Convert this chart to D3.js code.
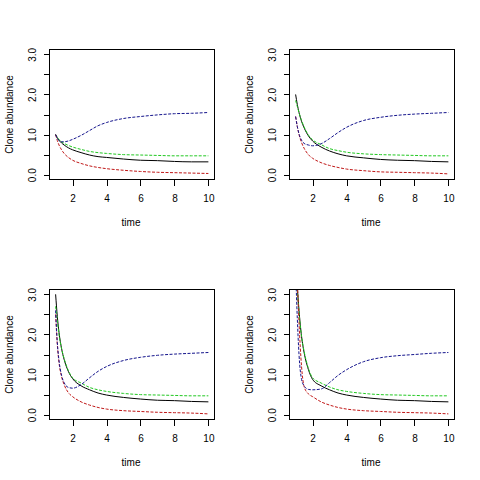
<!DOCTYPE html>
<html>
<head>
<meta charset="utf-8">
<script src="https://cdn.jsdelivr.net/npm/d3@7"></script>
<style>
  html, body { margin: 0; padding: 0; background: #fff; }
  svg { display: block; }
  text { font-family: "Liberation Sans", Arial, sans-serif; font-size: 10px; fill: #000; }
</style>
</head>
<body>
<script>
// ---- data ----
const time = [1, 1.1, 1.2, 1.35, 1.5, 1.75, 2, 2.5, 3, 3.5, 4, 5, 6, 7, 8, 9, 10];

const black1 = [1.0, 0.92, 0.86, 0.79, 0.74, 0.67, 0.62, 0.55, 0.49, 0.45, 0.43, 0.39, 0.36, 0.35, 0.33, 0.32, 0.32];
const green1 = [1.0, 0.93, 0.88, 0.82, 0.78, 0.73, 0.69, 0.63, 0.58, 0.55, 0.53, 0.50, 0.49, 0.48, 0.47, 0.47, 0.47];
const red1   = [1.0, 0.85, 0.74, 0.62, 0.53, 0.43, 0.36, 0.28, 0.22, 0.18, 0.15, 0.11, 0.08, 0.06, 0.05, 0.04, 0.03];
const blue1  = [1.0, 0.90, 0.85, 0.82, 0.82, 0.84, 0.88, 0.98, 1.10, 1.22, 1.30, 1.40, 1.45, 1.49, 1.52, 1.53, 1.55];

const black2 = [2.0, 1.75, 1.55, 1.33, 1.17, 0.97, 0.84, 0.69, 0.59, 0.52, 0.47, 0.42, 0.38, 0.36, 0.35, 0.33, 0.32];
const green2 = [1.85, 1.70, 1.55, 1.35, 1.19, 0.99, 0.87, 0.75, 0.65, 0.60, 0.56, 0.52, 0.50, 0.49, 0.48, 0.47, 0.47];
const red2   = [1.45, 1.20, 1.00, 0.80, 0.66, 0.50, 0.41, 0.30, 0.23, 0.18, 0.14, 0.10, 0.07, 0.06, 0.05, 0.04, 0.02];
const blue2  = [1.45, 1.20, 1.02, 0.86, 0.78, 0.74, 0.72, 0.77, 0.90, 1.05, 1.18, 1.35, 1.43, 1.48, 1.51, 1.53, 1.55];

const black3 = [3.0, 2.45, 2.05, 1.65, 1.38, 1.08, 0.90, 0.72, 0.62, 0.54, 0.49, 0.43, 0.39, 0.36, 0.35, 0.33, 0.32];
const green3 = [2.7, 2.35, 2.00, 1.65, 1.40, 1.10, 0.92, 0.79, 0.68, 0.62, 0.58, 0.53, 0.50, 0.49, 0.48, 0.47, 0.47];
const red3   = [2.5, 1.75, 1.30, 0.95, 0.75, 0.55, 0.45, 0.32, 0.24, 0.18, 0.14, 0.10, 0.08, 0.06, 0.05, 0.04, 0.02];
const blue3  = [2.6, 1.80, 1.35, 0.98, 0.80, 0.68, 0.66, 0.75, 0.92, 1.08, 1.20, 1.35, 1.43, 1.48, 1.51, 1.53, 1.55];

const black4 = [4.0, 3.20, 2.60, 1.95, 1.55, 1.13, 0.88, 0.72, 0.62, 0.54, 0.49, 0.43, 0.39, 0.36, 0.35, 0.33, 0.32];
const green4 = [3.8, 3.10, 2.55, 1.95, 1.58, 1.16, 0.92, 0.79, 0.69, 0.62, 0.58, 0.53, 0.50, 0.49, 0.48, 0.47, 0.47];
const red4   = [4.0, 3.30, 2.30, 1.20, 0.70, 0.52, 0.45, 0.32, 0.24, 0.18, 0.14, 0.10, 0.08, 0.06, 0.05, 0.04, 0.02];
const blue4  = [3.6, 2.40, 1.50, 0.88, 0.72, 0.63, 0.62, 0.64, 0.80, 0.98, 1.12, 1.32, 1.42, 1.47, 1.50, 1.53, 1.55];

const panels = [
  [black1, green1, red1, blue1],
  [black2, green2, red2, blue2],
  [black3, green3, red3, blue3],
  [black4, green4, red4, blue4]
];

const seriesColors = ["#000000", "#22C822", "#C01818", "#14148C"];
const seriesDash   = [null, "3,1.5", "3,1.5", "3,1.5"];

const xTicks = [2, 4, 6, 8, 10];
const yTicks = [0, 0.5, 1, 1.5, 2, 2.5, 3];
const yLabelled = [0, 1, 2, 3];
const xTitle = "time";
const yTitle = "Clone abundance";

// ---- layout ----
const W = 480, H = 480;
const offsets = [[0, 0], [240, 0], [0, 240], [240, 240]];
const L = 49.5, R = 214.5, T = 49.5, B = 179.5;

const svg = d3.select("body").append("svg").attr("width", W).attr("height", H);
svg.append("rect").attr("width", W).attr("height", H).attr("fill", "#fff");

const x = d3.scaleLinear().domain([0.64, 10.36]).range([L, R]);
const y = d3.scaleLinear().domain([-0.12, 3.12]).range([B, T]);

svg.append("defs").append("clipPath").attr("id", "plotclip")
  .append("rect").attr("x", L).attr("y", T).attr("width", R - L).attr("height", B - T);

const line = d3.line().x((d, i) => x(time[i])).y(d => y(d)).curve(d3.curveMonotoneX);

panels.forEach((series, p) => {
  const g = svg.append("g").attr("transform", `translate(${offsets[p][0]},${offsets[p][1]})`);

  const lines = g.append("g").attr("clip-path", "url(#plotclip)");
  // draw order: black, green, red, blue
  series.forEach((vals, s) => {
    lines.append("path")
      .attr("d", line(vals))
      .attr("fill", "none")
      .attr("stroke", seriesColors[s])
      .attr("stroke-width", 1)
      .attr("stroke-dasharray", seriesDash[s]);
  });

  // box
  g.append("rect").attr("x", L).attr("y", T).attr("width", R - L).attr("height", B - T)
    .attr("fill", "none").attr("stroke", "#000").attr("stroke-width", 1);

  // x axis
  const xa = g.append("g").attr("transform", `translate(0,${B})`)
    .call(d3.axisBottom(x).tickValues(xTicks).tickSize(6).tickSizeOuter(0).tickFormat(d3.format("d")));
  xa.select(".domain").remove();
  xa.selectAll("line").attr("stroke", "#000").attr("shape-rendering", "crispEdges");
  xa.selectAll("text").attr("y", 22.5).attr("dy", null).attr("fill", "#000")
    .style("font-family", "Liberation Sans, Arial, sans-serif").style("font-size", "10px");

  // y axis
  const ya = g.append("g").attr("transform", `translate(${L},0)`)
    .call(d3.axisLeft(y).tickValues(yTicks).tickSize(6).tickSizeOuter(0)
      .tickFormat(d => yLabelled.includes(d) ? d3.format(".1f")(d) : ""));
  ya.select(".domain").remove();
  ya.selectAll("line").attr("stroke", "#000").attr("shape-rendering", "crispEdges");
  ya.selectAll("text")
    .attr("x", null).attr("dy", null)
    .attr("text-anchor", "middle")
    .attr("transform", "translate(-14,0) rotate(-90)")
    .attr("fill", "#000")
    .style("font-family", "Liberation Sans, Arial, sans-serif").style("font-size", "10px");

  // titles
  g.append("text").attr("x", (L + R) / 2 - 1).attr("y", 226.3)
    .attr("text-anchor", "middle").text(xTitle);
  g.append("text").attr("transform", `translate(13,${(T + B) / 2}) rotate(-90)`)
    .attr("text-anchor", "middle").text(yTitle);
});
</script>
</body>
</html>
